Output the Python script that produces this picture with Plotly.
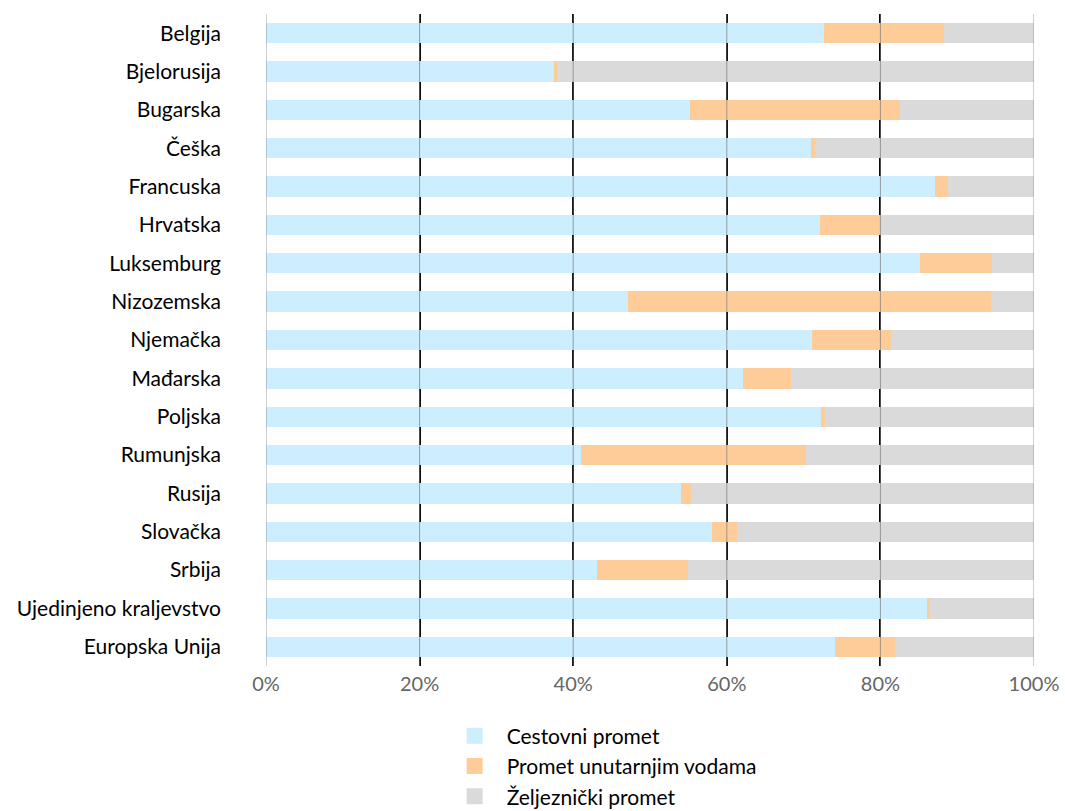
import plotly.graph_objects as go

countries = ["Belgija", "Bjelorusija", "Bugarska", "Češka", "Francuska", "Hrvatska",
             "Luksemburg", "Nizozemska", "Njemačka", "Mađarska", "Poljska", "Rumunjska",
             "Rusija", "Slovačka", "Srbija", "Ujedinjeno kraljevstvo", "Europska Unija"]
cestovni = [72.7, 37.5, 55.2, 71.0, 87.1, 72.1, 85.2, 47.1, 71.1, 62.1, 72.3, 41.0,
            54.0, 58.1, 43.1, 86.1, 74.1]
vodni = [15.6, 0.4, 27.4, 0.5, 1.7, 7.8, 9.3, 47.3, 10.3, 6.3, 0.5, 29.3,
         1.3, 3.2, 11.8, 0.4, 7.8]
zeljeznicki = [round(100 - a - b, 1) for a, b in zip(cestovni, vodni)]

series_names = ["Cestovni promet", "Promet unutarnjim vodama", "Željeznički promet"]
series_vals = [cestovni, vodni, zeljeznicki]
colors = ["#cceeff", "#fecc99", "#dadada"]
tick_vals = [0, 20, 40, 60, 80, 100]
tick_text = ["0%", "20%", "40%", "60%", "80%", "100%"]

fig = go.Figure()
for name, vals, col in zip(series_names, series_vals, colors):
    fig.add_trace(go.Bar(y=countries, x=vals, orientation="h", name=name,
                         marker=dict(color=col, line=dict(width=0)),
                         showlegend=False))
for name, col in zip(series_names, colors):
    fig.add_trace(go.Scatter(x=[None], y=[None], mode="markers", name=name,
                             marker=dict(symbol="square", size=20, color=col),
                             showlegend=True))

for v in tick_vals:
    fig.add_shape(type="line", xref="x", yref="paper", x0=v, x1=v, y0=0, y1=1,
                  line=dict(color="rgba(120,120,120,0.7)", width=1), layer="above")

fig.update_layout(
    width=1065, height=811,
    barmode="stack", bargap=0.47,
    margin=dict(l=266, r=31, t=14, b=145, autoexpand=False),
    plot_bgcolor="white", paper_bgcolor="white",
    font=dict(family="Lato", size=20, color="#000"),
    xaxis=dict(range=[0, 100], tickvals=tick_vals, ticktext=tick_text,
               showgrid=True, gridcolor="#000", gridwidth=2, zeroline=False,
               tickfont=dict(color="#666", size=20), ticks="", showline=False,
               automargin=False, ticklabelstandoff=4, ticklabeloverflow="allow"),
    yaxis=dict(autorange="reversed", showgrid=False, ticks="", ticklabelstandoff=44,
               tickfont=dict(size=21, color="#000"), automargin=False),
    legend=dict(orientation="v", x=0.230, xanchor="left", y=-0.076, yanchor="top",
                itemsizing="trace", font=dict(size=21), tracegroupgap=0,
                traceorder="normal", bgcolor="rgba(0,0,0,0)",
                itemwidth=54),
)
fig.write_html("out.html", config={"displayModeBar": False},
               post_script="document.body.style.margin='0';")
